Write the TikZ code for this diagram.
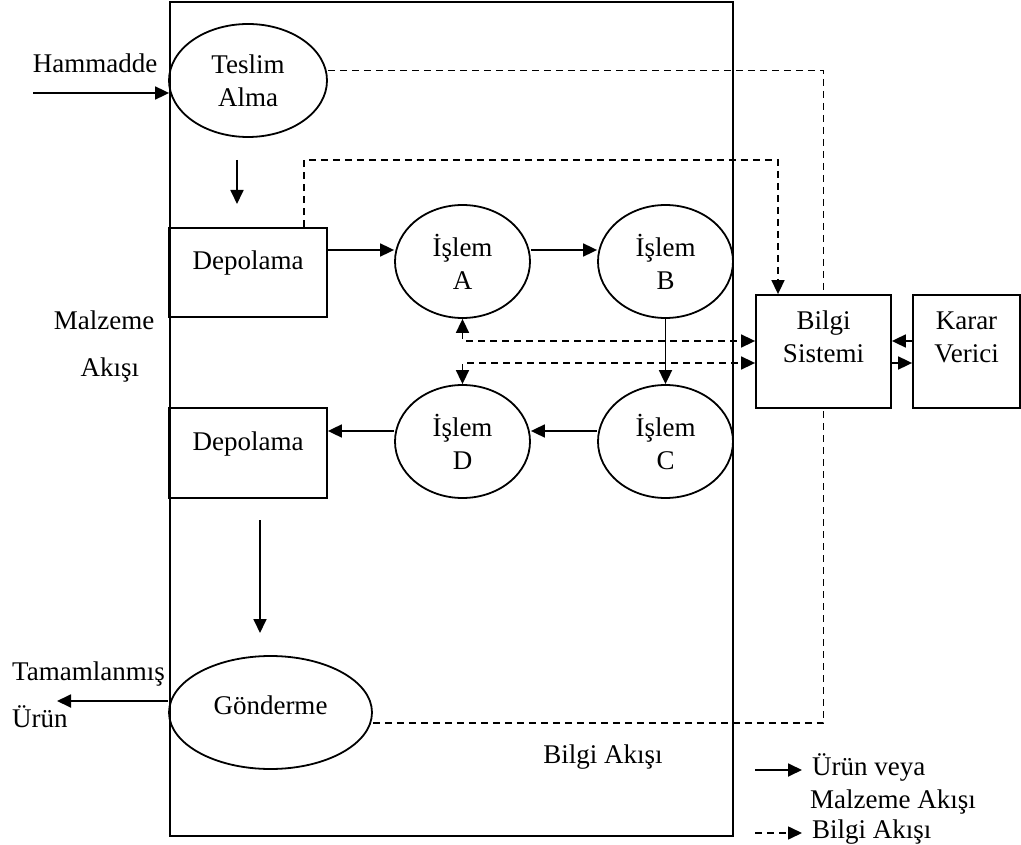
\documentclass[tikz,border=0pt]{standalone}
\usepackage{fontspec}
\setmainfont{Liberation Serif}
\usetikzlibrary{arrows.meta,shapes.geometric}
\begin{document}
\begin{tikzpicture}[x=1pt,y=-1pt,
  >={Triangle[length=14pt,width=13pt]},
  every node/.style={font=\fontsize{27}{33}\selectfont, inner sep=0pt},
  proc/.style={draw, ellipse, line width=1.8pt, minimum width=135pt, minimum height=113pt, align=center},
  box/.style={draw, rectangle, line width=1.8pt},
  flow/.style={line width=1.8pt, ->},
  infoline/.style={line width=1.6pt, dash pattern=on 7pt off 5pt},
  info/.style={infoline, ->},
  txt/.style={anchor=base}]
\useasboundingbox (0,0) rectangle (1021,845);

% frame
\node[box, minimum width=563pt, minimum height=834pt] (frame) at (451.5,419) {};

% nodes
\node[proc, minimum width=158pt] (ta) at (248,80.5) {Teslim\\Alma};
\node[box, minimum width=158pt, minimum height=89pt,
  label={[anchor=base,yshift=9.5pt]center:Depolama}] (d1) at (248,272.5) {};
\node[proc] (a) at (462.5,261.5) {İşlem\\A};
\node[proc] (b) at (665.5,261.5) {İşlem\\B};
\node[proc] (c) at (665.5,441.5) {İşlem\\C};
\node[proc] (d) at (462.5,441.5) {İşlem\\D};
\node[box, minimum width=158pt, minimum height=90pt,
  label={[anchor=base,yshift=9pt]center:Depolama}] (d2) at (248,453) {};
\node[proc, minimum width=203pt,
  label={[anchor=base,yshift=7.5pt]center:Gönderme}] (g) at (270.5,712.5) {};
\node[box, minimum width=135pt, minimum height=113pt,
  label={[align=center,yshift=14.5pt]center:Bilgi\\Sistemi}] (bs) at (823.5,351.5) {};
\node[box, minimum width=107pt, minimum height=113pt,
  label={[align=center,yshift=14.5pt]center:Karar\\Verici}] (kv) at (966.5,351.5) {};

% free texts
\node[txt] (ham) at (95,72.7) {Hammadde};
\node[txt] (mz) at (104,330) {Malzeme};
\node[txt] (ak) at (110,376.7) {Akışı};
\node[anchor=base west] (tm) at (12,680) {Tamamlanmış};
\node[anchor=base west] (ur) at (12,727) {Ürün};
\node[txt] (ba) at (603,763) {Bilgi Akışı};
\node[anchor=base west] (lg1) at (812,775) {Ürün veya};
\node[anchor=base west] (lg2) at (810,808) {Malzeme Akışı};
\node[anchor=base west] (lg3) at (812,838) {Bilgi Akışı};

% coordinates
\coordinate (hs) at (33,93);
\coordinate (t1) at (237,160); \coordinate (t2) at (237,204);
\coordinate (r1) at (0,250);
\coordinate (r2) at (0,431);
\coordinate (r3) at (0,341);
\coordinate (r4) at (0,363);
\coordinate (s1) at (260,520); \coordinate (s2) at (260,633);
\coordinate (gx) at (57,701);
\coordinate (i1) at (304,160); \coordinate (i2) at (778,160);
\coordinate (la1) at (755,770); \coordinate (la2) at (802,770);
\coordinate (lb1) at (755,833); \coordinate (lb2) at (802,833);

% material flow
\draw[flow] (hs) -- (hs -| frame.west);
\draw[flow] (t1) -- (t2);
\draw[flow] (r1 -| d1.east) -- (r1 -| a.west);
\draw[flow] (r1 -| a.east) -- (r1 -| b.west);
\draw[flow] (b.south) -- (c.north);
\draw[flow] (r2 -| c.west) -- (r2 -| d.east);
\draw[flow] (r2 -| d.west) -- (r2 -| d2.east);
\draw[flow] (s1) -- (s2);
\draw[flow] (gx -| g.west) -- (gx);
\draw[flow] (r3 -| kv.west) -- (r3 -| bs.east);
\draw[flow] (r4 -| bs.east) -- (r4 -| kv.west);

% information flow
\draw[infoline] (ta.east) ++(0,-10) -| (bs.north);
\draw[info] (i1 |- d1.north) -- (i1) -- (i2) -- (i2 |- bs.north);
\draw[info, <->] (a.south) -- (a.south |- r3) -- (r3 -| bs.west);
\draw[info, <->] (d.north) -- (d.north |- r4) -- (r4 -| bs.west);
\draw[infoline] (g.east) ++(0,10.5) -| (bs.south);

% legend
\draw[flow] (la1) -- (la2);
\draw[info] (lb1) -- (lb2);
\end{tikzpicture}
\end{document}
